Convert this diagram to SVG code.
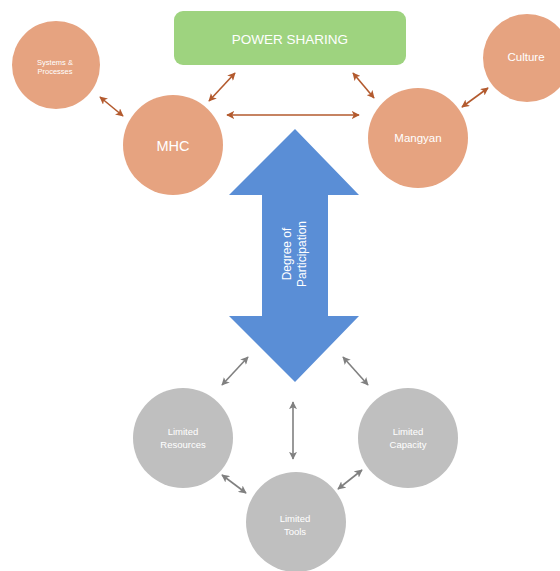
<svg xmlns="http://www.w3.org/2000/svg" width="560" height="571" viewBox="0 0 560 571">
<style>
.org{fill:#E6A380}
.gry{fill:#BFBFBF}
.t{font-family:"Liberation Sans",Arial,sans-serif;fill:#FFFFFF;text-anchor:middle;dominant-baseline:central}
.ca{stroke:#B35A2E;stroke-width:1.6;fill:none;marker-start:url(#ho);marker-end:url(#ho)}
.cg{stroke:#808080;stroke-width:1.6;fill:none;marker-start:url(#hg);marker-end:url(#hg)}
</style>
<defs>
<marker id="ho" viewBox="0 0 10 10" refX="9" refY="5" markerWidth="5" markerHeight="5" orient="auto-start-reverse" markerUnits="strokeWidth"><path d="M0,0 L10,5 L0,10 L2.5,5 Z" fill="#B35A2E"/></marker>
<marker id="hg" viewBox="0 0 10 10" refX="9" refY="5" markerWidth="5" markerHeight="5" orient="auto-start-reverse" markerUnits="strokeWidth"><path d="M0,0 L10,5 L0,10 L2.5,5 Z" fill="#808080"/></marker>
</defs>
<rect width="560" height="571" fill="#FFFFFF"/>
<g id="connectors">
<line class="ca" x1="100" y1="97" x2="123" y2="116"/>
<line class="ca" x1="209" y1="101" x2="235" y2="73"/>
<line class="ca" x1="227" y1="115" x2="359" y2="115"/>
<line class="ca" x1="353" y1="73" x2="374" y2="98"/>
<line class="ca" x1="462" y1="107" x2="488" y2="88"/>
<line class="cg" x1="222" y1="385" x2="248" y2="357"/>
<line class="cg" x1="343" y1="357" x2="368" y2="385"/>
<line class="cg" x1="293" y1="402" x2="293" y2="459"/>
<line class="cg" x1="222" y1="475" x2="246" y2="493"/>
<line class="cg" x1="338" y1="489" x2="362" y2="470"/>
</g>
<g id="power-sharing">
<rect x="174" y="11" width="232" height="54" rx="9" fill="#9ED37F"/>
<text class="t" x="290" y="39" font-size="13.5">POWER SHARING</text>
</g>
<g id="systems">
<circle class="org" cx="56" cy="65" r="44"/>
<text class="t" x="55" y="62" font-size="7.5">Systems &amp;</text>
<text class="t" x="55" y="71" font-size="7.5">Processes</text>
</g>
<g id="mhc">
<circle class="org" cx="173" cy="145" r="50"/>
<text class="t" x="173" y="146" font-size="14.5">MHC</text>
</g>
<g id="mangyan">
<circle class="org" cx="418" cy="138" r="50"/>
<text class="t" x="418" y="138" font-size="11.5">Mangyan</text>
</g>
<g id="culture">
<circle class="org" cx="527" cy="58" r="44"/>
<text class="t" x="526" y="57" font-size="11.5">Culture</text>
</g>
<g id="degree">
<path d="M295,129 L359,195 L328,195 L328,316 L359,316 L295,382 L229,316 L262,316 L262,195 L229,195 Z" fill="#5A8ED6"/>
<text class="t" font-size="12" transform="translate(295,254) rotate(-90)"><tspan x="0" y="-8">Degree of</tspan><tspan x="0" y="7">Participation</tspan></text>
</g>
<g id="resources">
<circle class="gry" cx="183" cy="438" r="50"/>
<text class="t" x="183" y="431" font-size="9.5">Limited</text>
<text class="t" x="183" y="444" font-size="9.5">Resources</text>
</g>
<g id="capacity">
<circle class="gry" cx="408" cy="438" r="50"/>
<text class="t" x="408" y="431" font-size="9.5">Limited</text>
<text class="t" x="408" y="444" font-size="9.5">Capacity</text>
</g>
<g id="tools">
<circle class="gry" cx="296" cy="522" r="50"/>
<text class="t" x="295" y="518" font-size="9.5">Limited</text>
<text class="t" x="295" y="531" font-size="9.5">Tools</text>
</g>
</svg>
